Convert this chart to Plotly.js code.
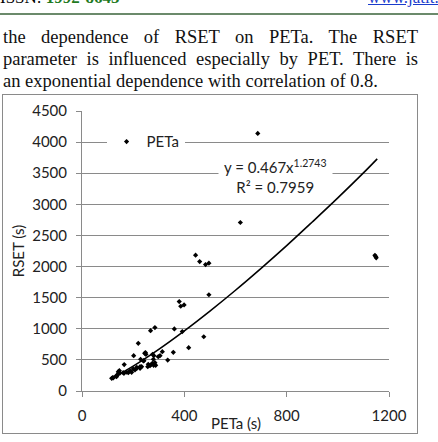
<!DOCTYPE html>
<html>
<head>
<meta charset="utf-8">
<script src="https://cdn.plot.ly/plotly-3.0.1.min.js"></script>
<style>
  html, body { margin:0; padding:0; background:#fff; width:438px; height:442px; overflow:hidden; }
  #hdr { position:absolute; left:0; top:-12px; width:438px; font-family:"Liberation Serif","Times New Roman",serif; font-size:17px; }
  #hdr .l { position:absolute; left:0; top:0; white-space:nowrap; }
  #hdr .l b { color:#1f7a1f; }
  #hdr .r { position:absolute; left:368px; top:0; white-space:nowrap; color:#1a3ccc; text-decoration:underline; }
  #rule { position:absolute; left:0; top:13px; width:438px; height:2px; background:#6b8a6b; }
  #para { position:absolute; left:3px; top:26px; width:415px; font-family:"Liberation Serif","Times New Roman",serif; font-size:18.5px; line-height:22px; color:#111; }
  #para div { text-align:justify; text-align-last:justify; white-space:nowrap; }
  #para div.last { text-align:left; text-align-last:left; }
  #box { position:absolute; left:2px; top:94px; width:414px; height:338px; border:1px solid #8a8a8a; }
  #chart { width:414px; height:338px; }
</style>
</head>
<body>
<div id="hdr"><span class="l">ISSN: <b>1992-8645</b></span><span class="r">www.jatit.org</span></div>
<div id="rule"></div>
<div id="para">
  <div style="white-space:normal">the dependence of RSET on PETa. The RSET</div>
  <div style="white-space:normal">parameter is influenced especially by PET. There is</div>
  <div class="last">an exponential dependence with correlation of 0.8.</div>
</div>
<div id="box"><div id="chart"></div></div>
<script>
// Scatter data (PETa in s, RSET in s)
const petaX = [116, 120, 122, 133, 135, 138, 142, 142, 146, 148, 161, 164, 165, 175, 181, 188, 194, 200, 202, 207,
               214, 214, 220, 227, 227, 229, 233, 240, 242, 245, 248, 250, 257, 259, 266, 268, 272, 275, 276, 279,
               280, 281, 285, 285, 288, 298, 305, 314, 335, 357, 361, 380, 386, 392, 399, 417, 444, 460, 476, 483,
               496, 496, 619, 687, 1145, 1148, 1150];
const rsetY = [204, 214, 210, 241, 230, 257, 284, 311, 327, 285, 294, 284, 425, 301, 295, 322, 300, 354, 568, 338,
               365, 381, 767, 365, 391, 510, 391, 483, 488, 606, 617, 590, 391, 430, 407, 970, 430, 446, 590, 510,
               413, 568, 455, 1019, 413, 552, 568, 632, 497, 622, 997, 1437, 1362, 955, 1383, 697, 2183, 2080, 872, 2032,
               2054, 1547, 2708, 4140, 2180, 2160, 2140];
// Power trendline (y = 0.467x^1.2743, R² = 0.7959)
const trendX = [116, 200, 300, 400, 500, 600, 700, 800, 900, 1000, 1100, 1154];
const trendY = [200, 399, 669, 966, 1284, 1619, 1971, 2336, 2716, 3103, 3505, 3731];
const yTicks = [0, 500, 1000, 1500, 2000, 2500, 3000, 3500, 4000, 4500];
const xTicks = [0, 400, 800, 1200];
const seriesName = 'PETa';
const xTitle = 'PETa (s)';
const yTitle = 'RSET (s)';
const eqText = 'y = 0.467x<sup>1.2743</sup><br>R² = 0.7959';

const fontFam = 'Lato, "Open Sans", sans-serif';
const grey = '#8a8a8a';
const txt = '#222';

const traces = [
  { x: trendX, y: trendY, type: 'scatter', mode: 'lines', line: {color:'#000', width:1.6, shape:'spline'},
    showlegend:false, hoverinfo:'skip' },
  { x: petaX, y: rsetY, type: 'scatter', mode: 'markers', name: seriesName,
    marker: {symbol:'diamond', size:4, color:'#000'} }
];

const layout = {
  width: 414, height: 338,
  margin: {l:79, r:28, t:16, b:42},
  paper_bgcolor:'#fff', plot_bgcolor:'#fff',
  font: {family: fontFam, size: 15, color: txt},
  xaxis: {
    range:[0,1200], tickvals: xTicks, ticktext: xTicks.map(String),
    showgrid:false, zeroline:false, showline:true, linecolor:grey, linewidth:1,
    ticks:'outside', ticklen:5, tickcolor:grey, ticklabelstandoff: 6
  },
  yaxis: {
    range:[0,4500], tickvals: yTicks, ticktext: yTicks.map(String),
    showgrid:true, gridcolor:grey, gridwidth:1, zeroline:false, showline:true, linecolor:grey, linewidth:1,
    ticks:'outside', ticklen:5, tickcolor:grey, ticklabelstandoff: 6,
    title:{text: yTitle, standoff:3, font:{size:15}}
  },
  showlegend:true,
  legend: {x:0.08, y:0.89, xanchor:'left', yanchor:'middle', bgcolor:'#fff', borderwidth:0,
           font:{size:15}, itemwidth:30},
  annotations: [
    { xref:'paper', yref:'paper', x:0.629, y:0.767, xanchor:'center', yanchor:'middle',
      text: eqText, showarrow:false, align:'center', bgcolor:'#fff', borderpad:5, font:{size:15, color: txt} },
    { xref:'paper', yref:'paper', x:0.5, y:-0.113, xanchor:'center', yanchor:'middle',
      text: xTitle, showarrow:false, font:{size:15, color: txt} }
  ]
};

Plotly.newPlot('chart', traces, layout, {displayModeBar:false, staticPlot:true});
</script>
</body>
</html>
